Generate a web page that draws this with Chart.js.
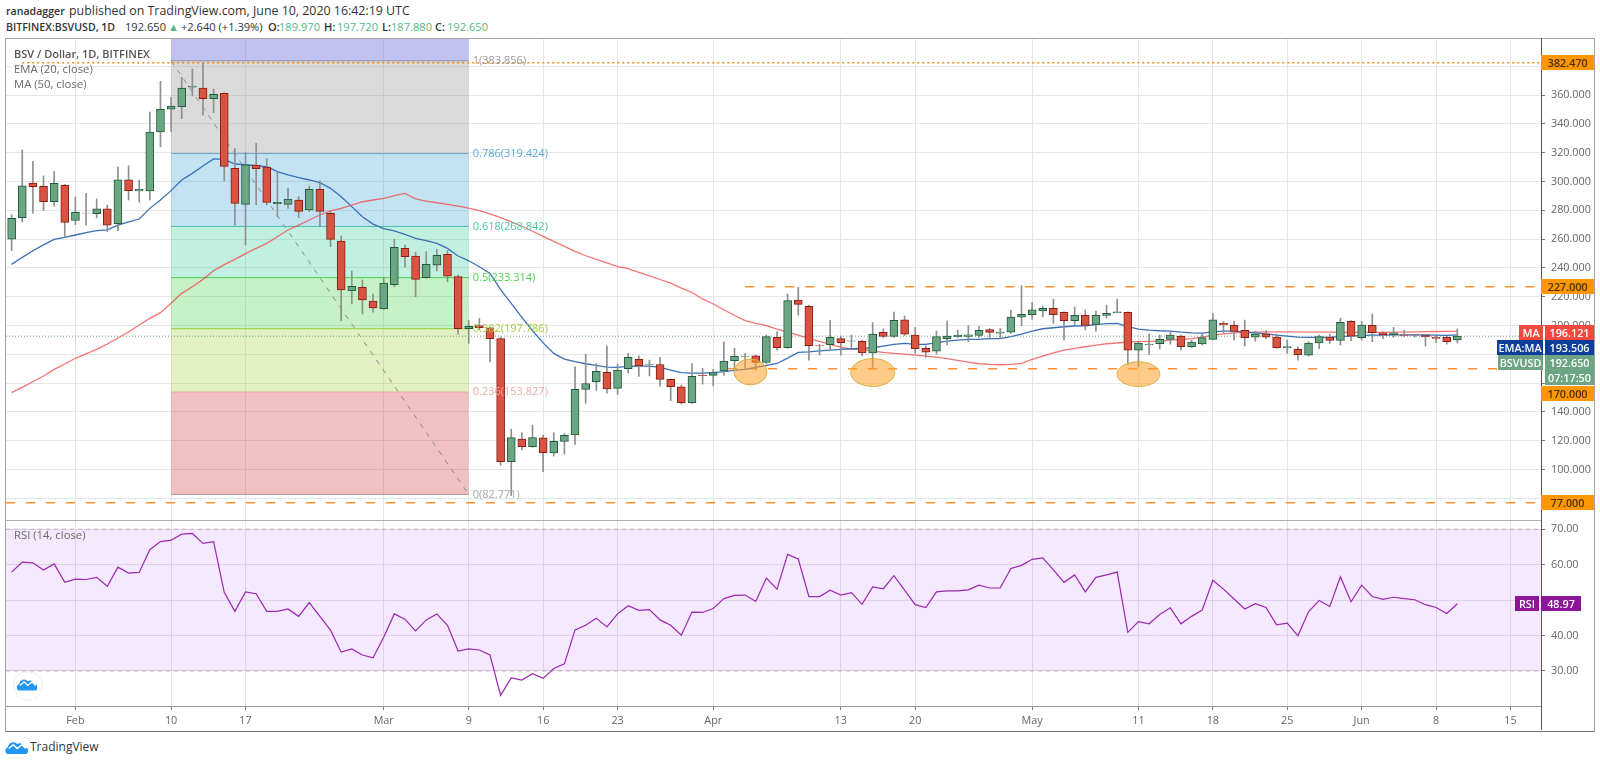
<!DOCTYPE html>
<html lang="en">

<head>
  <meta charset="UTF-8" />
  <title>BSVUSD</title>
  <script src="https://cdn.jsdelivr.net/npm/chart.js"></script>
  <style>
    html, body { margin: 0; padding: 0; background: #fff; }
    body { width: 1600px; height: 763px; position: relative; overflow: hidden; font-family: "Open Sans", sans-serif; }
    canvas { position: absolute; left: 0; }
    #frame { position: absolute; left: 5px; top: 38px; width: 1588px; height: 692px; border: 1px solid #a3a3a3; border-bottom-color: #777; pointer-events: none; }
    #sep { position: absolute; left: 6px; top: 520px; width: 1535px; height: 1px; background: #b0b0b0; }
    #axisLine { position: absolute; left: 1541px; top: 38px; width: 1px; height: 692px; background: #555; }
    .txt { position: absolute; white-space: nowrap; line-height: 14px; }
    .head { font-size: 12.4px; color: #333; top: 4px; }
    .sub { font-size: 11.1px; color: #333; top: 20px; }
    .sub.b, .head.b { font-weight: 600; }
    .up { color: #53b987; }
    .leg { font-size: 11.3px; color: #6a6a6a; left: 14px; }
    .tag { position: absolute; font-size: 10.8px; font-weight: 600; color: #fff; height: 15px; line-height: 15px; text-align: center; }
    .orange { background: #ff9800; color: #4a3000; left: 1541px; width: 53px; }
  </style>
</head>

<body>
  <div class="txt head b" style="left:6px;font-size:10.6px">ranadagger</div>
  <div class="txt head" style="left:69px">published on TradingView.com, June 10, 2020 16:42:19 UTC</div>
  <div class="txt sub b" style="left:6px;font-size:10.6px">BITFINEX:BSVUSD, 1D</div>
  <div class="txt sub" style="left:125px">192.650</div>
  <div class="txt sub up" style="left:168px">▲</div>
  <div class="txt sub" style="left:181px">+2.640 (+1.39%)</div>
  <div class="txt sub b" style="left:268px">O:</div>
  <div class="txt sub up" style="left:279px">189.970</div>
  <div class="txt sub b" style="left:324px">H:</div>
  <div class="txt sub up" style="left:337px">197.720</div>
  <div class="txt sub b" style="left:382px">L:</div>
  <div class="txt sub up" style="left:391px">187.880</div>
  <div class="txt sub b" style="left:435px">C:</div>
  <div class="txt sub up" style="left:447px">192.650</div>

  <canvas id="priceChart" width="1600" height="482" style="top:38px"></canvas>
  <canvas id="rsiChart" width="1600" height="210" style="top:520px"></canvas>

  <div id="frame"></div>
  <div id="sep"></div>
  <div id="axisLine"></div>

  <div class="txt leg" style="top:47px;color:#555;font-weight:600;font-size:11px">BSV / Dollar, 1D, BITFINEX</div>
  <div class="txt leg" style="top:62px">EMA (20, close)</div>
  <div class="txt leg" style="top:77px">MA (50, close)</div>
  <div class="txt leg" style="top:528px">RSI (14, close)</div>

  <!-- price axis tags -->
  <div class="tag orange" style="top:55px">382.470</div>
  <div class="tag orange" style="top:279px">227.000</div>
  <div class="tag orange" style="top:386px">170.000</div>
  <div class="tag orange" style="top:495px">77.000</div>
  <div class="tag" style="top:325px;left:1519px;width:24px;background:#f5483e">MA</div>
  <div class="tag" style="top:325px;left:1545px;width:49px;background:#f5483e">196.121</div>
  <div class="tag" style="top:340px;left:1497px;width:46px;background:#0d3f9a">EMA:MA</div>
  <div class="tag" style="top:340px;left:1545px;width:49px;background:#0d3f9a">193.506</div>
  <div class="tag" style="top:355px;left:1498px;width:45px;background:#6ba583">BSVUSD</div>
  <div class="tag" style="top:355px;left:1545px;width:49px;background:#6ba583">192.650</div>
  <div class="tag" style="top:370px;left:1545px;width:49px;background:#6ba583">07:17:50</div>
  <div class="tag" style="top:596px;left:1515px;width:24px;background:#8e1599">RSI</div>
  <div class="tag" style="top:596px;left:1541px;width:40px;background:#8e1599">48.97</div>

  <!-- logos -->
  <div style="position:absolute;left:13px;top:671px;width:28px;height:28px;border-radius:50%;background:#fff;border:1px solid #ececec"></div>
  <svg style="position:absolute;left:17px;top:677px" width="20" height="14" viewBox="0 0 28 18">
    <path d="M2 18a5 5 0 0 1 1-9 7 7 0 0 1 12-4 6 6 0 0 1 9 5 4 4 0 0 1 2 8z" fill="#2196f3" />
    <path d="M4 11l6-5 5 5 6-5 5 5" fill="none" stroke="#fff" stroke-width="1.8" />
  </svg>
  <svg style="position:absolute;left:5px;top:740px" width="23" height="14" viewBox="0 0 28 18">
    <path d="M2 18a5 5 0 0 1 1-9 7 7 0 0 1 12-4 6 6 0 0 1 9 5 4 4 0 0 1 2 8z" fill="#2196f3" />
    <path d="M4 11l6-5 5 5 6-5 5 5" fill="none" stroke="#fff" stroke-width="1.8" />
  </svg>
  <div class="txt" style="left:30px;top:740px;font-size:12px;color:#333">TradingView</div>

  <script>
    // day 0 = Feb 1 2020, first candle is Jan 26
    const firstDay = -6;
    const openP = [
      260, 275, 299, 296.7, 286, 297.4, 273, 278, 277.7, 281,
      270.8, 301.3, 293.5, 293.5, 334.4, 350.2, 352, 365.5, 365, 357.6,
      361.3, 309.2, 284.2, 311.5, 310.1, 284.6, 284.2, 287.2, 280.3, 294.6,
      277.9, 258.7, 224, 226.6, 217.1, 211.5, 228.4, 253.6, 248.3, 233.3,
      241.9, 249.5, 234, 197.9, 200, 198.5, 191, 105.5, 121.2, 115.9,
      122, 111.5, 119.6, 124, 155.7, 161, 167.5, 156.4, 170, 176.5,
      173, 173, 162.6, 157.5, 146.4, 165.5, 165.4, 168.6, 175.6, 178.6,
      179, 174.4, 191.8, 184.6, 217.7, 213.3, 186.3, 186.7, 191, 189.2,
      189, 181.1, 195.3, 192.5, 204, 193.4, 184.2, 182.3, 190.9, 192.3,
      192.5, 193.2, 197.3, 194.8, 195.5, 205.9, 207.5, 210.1, 211.9, 209.2,
      203.4, 207.1, 200.8, 207.1, 209, 209.2, 183, 186.7, 187.4, 190.4,
      192.7, 185.3, 187.2, 190.4, 201.7, 200.1, 196.7, 192, 194.3, 192,
      184.6, 183.5, 179.5, 187.9, 192, 189.7, 202.9, 191.6, 200.1, 195,
      193.6, 193.6, 193.6, 193.2, 191.8, 191.8, 189.97
    ];
    const highP = [
      277, 322, 314, 304, 307, 298, 289.3, 291.8, 287.9, 283.7,
      310.3, 311, 301, 348.3, 369.6, 358.5, 372.4, 378.2, 382.1, 364.1,
      361.7, 323.1, 320.3, 326.6, 315.9, 306.9, 295.3, 289.5, 296.9, 300.6,
      279.1, 262.2, 237.9, 231.7, 221.9, 233.5, 260, 256, 251, 251.3,
      253, 252, 235, 203.7, 205, 199, 192, 128, 125.6, 131,
      124, 125.6, 125, 171.4, 180.2, 173.7, 185.8, 173, 180.7, 179,
      176, 178, 163, 158.7, 173.7, 170.3, 169.6, 188.8, 184.2, 180.7,
      179.5, 193.4, 195.7, 221.9, 226.5, 214, 187, 203.6, 192.7, 193.4,
      190, 202, 197.6, 209.4, 206.6, 198.7, 186, 196.2, 203.1, 196.9,
      199.9, 199.7, 198, 198, 210.8, 227.7, 216.1, 213.5, 218.4, 209.5,
      212.9, 210.8, 210.1, 214.2, 218.4, 209.6, 188.8, 194.1, 193.4, 195.7,
      193.4, 189.9, 194, 208.5, 202.7, 202.9, 203.8, 196.2, 196.6, 194.1,
      190, 185.3, 188.8, 193.4, 194, 205, 203.4, 202.9, 208, 195.7,
      198.7, 196.9, 194, 193.6, 192.7, 192.7, 197.72
    ];
    const lowP = [
      252, 272, 278, 280, 283, 261.3, 270.1, 269.8, 274.7, 265.2,
      265.9, 287.2, 285.6, 287.2, 324.2, 334.9, 343.7, 359.4, 346.2, 347.9,
      300.4, 269.8, 255.9, 284, 283.7, 275.6, 281.4, 274.9, 279.1, 269.1,
      254.8, 203.4, 215, 208, 209.4, 211, 227, 240.5, 220, 232.8,
      238, 230.5, 194, 187.6, 197, 174.9, 103, 82, 113.6, 115.4,
      98.5, 109.4, 110.8, 117.5, 146, 155, 153, 152.2, 167, 164.7,
      165, 158, 147.8, 145.5, 146, 159.4, 158, 165.6, 169, 170,
      169.6, 173.7, 183, 184.2, 207.3, 176, 179.5, 182.5, 179.5, 184.8,
      179, 171, 191.8, 191.8, 193.2, 180.7, 177.9, 180.2, 186.5, 191.8,
      188.8, 191.8, 190.4, 190.9, 194.6, 199.9, 204.5, 206.1, 201.5, 189.9,
      200.4, 196.9, 196.2, 205.2, 209, 173, 171.4, 180, 183.7, 187.2,
      183, 184.8, 186.5, 190, 195, 189.9, 185.8, 189.2, 190.9, 184.2,
      180.7, 176, 178.8, 183.9, 187.6, 186.5, 189.5, 190, 188.8, 191,
      191.8, 192.2, 192, 185.8, 188.1, 187.2, 187.88
    ];
    const closeP = [
      274.5, 297, 296.5, 286, 298.8, 271.7, 278.6, 278.2, 281, 269.8,
      301.3, 293.7, 294.6, 334.4, 350.2, 352.5, 365, 366.4, 357.6, 360.6,
      310.6, 284.9, 311.7, 309, 285.6, 285.6, 287.9, 279.3, 294.6, 279.3,
      259.9, 224.7, 227.3, 217.8, 212.2, 229.6, 254.3, 247.9, 232.1, 242.5,
      248.8, 234.4, 197.9, 199.5, 198.5, 190.9, 105.5, 122.2, 115.9, 122.2,
      111.7, 119.6, 123.8, 155.7, 159.8, 168.2, 156, 169.1, 178, 172,
      173.3, 162.6, 157.5, 146.4, 164.7, 165.2, 167.3, 175.4, 178.6, 178.9,
      174.4, 192.3, 184.6, 217.3, 214.7, 186, 186.2, 191.8, 188.1, 189.5,
      181.1, 194.1, 192.5, 203.6, 194.1, 183.9, 181.6, 192.3, 192.7, 193.2,
      193.6, 196.7, 195.3, 195.5, 205.9, 207.8, 211, 211.9, 207.5, 203.4,
      207.1, 200.1, 207.1, 208.5, 209.6, 183, 187.9, 187.2, 190.4, 193.4,
      185.3, 188.5, 191.6, 204, 200.4, 196, 191.6, 194.3, 192, 184.6,
      185.5, 179.8, 187.9, 192.3, 189.7, 202.2, 192.7, 200.4, 195, 193.6,
      195, 193.2, 193.4, 192.3, 191.1, 188.8, 192.65
    ];
    const ema20 = [
      242.5, 247.4, 252, 256, 259.9, 261.3, 262.9, 264.5, 265.9, 266.4,
      269.8, 272.1, 274, 281.4, 287.2, 293.7, 301.1, 305.7, 310.8, 315.7,
      315.4, 312.2, 311.7, 311, 310.3, 306.9, 304.6, 302.7, 301.1, 299.2,
      295.3, 289.5, 282.6, 275.6, 270.5, 267.3, 265.7, 263.3, 260.6, 259,
      257.1, 253.6, 248.3, 245, 240.9, 236.2, 225, 215.4, 205.7, 196.4,
      188, 180.7, 176.7, 174.9, 173.5, 172.3, 171.2, 171, 171.7, 171.9,
      171.9, 171, 169.1, 167.3, 167, 167, 167.3, 168, 168.9, 169.6,
      171, 172.3, 173.7, 177.4, 181.4, 181.8, 182.5, 183, 183.5, 183.9,
      184.2, 184.6, 185.8, 186.9, 187.6, 186.9, 186.9, 188.1, 189.2, 189.9,
      190.4, 190.4, 190.9, 190.9, 192.3, 194.1, 196.2, 197.8, 198.5, 199.2,
      199.7, 199.9, 200.6, 201.3, 201.5, 199.2, 197.6, 196.9, 196.4, 196.2,
      195.5, 195, 194.8, 195.7, 196.2, 196.2, 195.5, 195, 194.3, 193.4,
      192.7, 192, 191.8, 191.8, 191.8, 192.5, 192.7, 193.2, 193.4, 193.4,
      193.6, 193.6, 193.6, 193.6, 193.4, 193.2, 193.506
    ];
    const ma50 = [
      153.4, 157.1, 161, 165, 169.6, 173.3, 177.3, 180.3, 183.5, 187.2,
      191.4, 195.5, 200.4, 205, 209, 215.5, 222.4, 227, 232.1, 238.1,
      242.3, 246, 250, 253.6, 257.1, 261.7, 266.4, 269.8, 273.3, 276.8,
      279.6, 281.4, 283.7, 286, 287.2, 288.4, 290.2, 291.8, 287.9, 286.5,
      285.3, 284.2, 283, 281.6, 279.8, 277.5, 275, 272, 269, 265.5,
      262, 258.5, 255, 251.5, 248.5, 246, 243.5, 241, 239.5, 237,
      234.5, 232, 229.5, 226, 223, 218.5, 215, 211, 207, 203.5,
      201.5, 199.9, 197.5, 195.5, 193.4, 191, 189, 187, 185, 183.7,
      183.3, 182.3, 181.4, 180.7, 180.2, 179.5, 178.8, 178.1, 177, 175.8,
      174.7, 173.5, 173, 172.8, 173, 173.7, 176.5, 178.8, 181.1, 183,
      184.2, 185.3, 186.5, 187.4, 187.9, 188.6, 188.8, 189, 189.2, 189.9,
      190.4, 190.9, 192, 193.4, 194.3, 195, 195.3, 195.5, 195.7, 195.7,
      195.7, 195.7, 195.5, 195.5, 195.5, 195.3, 195.3, 195.3, 195.3, 195.3,
      195.4, 195.5, 195.6, 195.8, 195.9, 196, 196.121
    ];
    const rsi14 = [
      57.9, 60.7, 60.5, 58.5, 60.2, 55, 55.9, 55.8, 56.4, 53.9,
      59.3, 57.6, 57.8, 64.2, 66.5, 66.9, 68.6, 68.8, 66, 66.5,
      52.2, 46.8, 52.3, 51.8, 46.8, 46.8, 47.5, 45.4, 49.3, 45.4,
      41.5, 35.3, 36.2, 34.5, 33.7, 39.5, 46.1, 44.6, 41.3, 44.4,
      46.1, 42.9, 35.6, 36.2, 35.9, 34.5, 23.1, 28, 27.4, 29.2,
      27.9, 30.7, 32, 41.6, 42.9, 44.9, 42.4, 46.1, 48.4, 47.1,
      47.3, 44.4, 42.9, 40.1, 46.6, 46.5, 47.6, 50.4, 51.3, 51.4,
      49.6, 56.2, 53.1, 62.9, 61.6, 51, 51, 52.8, 51.4, 52.1,
      48.8, 53.7, 53.2, 56.9, 52.8, 48.7, 47.9, 52.3, 52.6, 52.6,
      52.9, 54.2, 53.4, 53.4, 58.9, 59.8, 61.5, 61.9, 58.5, 55,
      57.1, 52.3, 56.4, 57.1, 57.9, 40.9, 43.9, 43.3, 45.9, 47.8,
      43.3, 45.4, 47.2, 55.6, 53.1, 50.3, 47.5, 49, 47.9, 43,
      43.5, 39.9, 46.7, 49.9, 48.2, 56.6, 49.5, 54.2, 51, 50.2,
      50.8, 50.4, 50.1, 48.7, 47.9, 46.2, 48.97
    ];

    const tickDays = [0, 9, 16, 29, 37, 44, 51, 60, 72, 79, 90, 100, 107, 114, 121, 128, 135];
    const tickLabels = ['Feb', '10', '17', 'Mar', '9', '16', '23', 'Apr', '13', '20', 'May', '11', '18', '25', 'Jun', '8', '15'];

    // fib retracement, drawn between day 9 and day 37
    const fibStart = 9;
    const fibEnd = 37;
    const fibRatios = ['1', '0.786', '0.618', '0.5', '0.382', '0.236', '0'];
    const fibValues = [383.856, 319.424, 268.842, 233.314, 197.786, 153.827, 82.771];
    const fibLines = ['#9a9a9a', '#5aa9dc', '#4cc8a2', '#4fd04f', '#a4cf3e', '#f0a8a8', '#a8a8a8'];
    const fibFills = ['rgba(150,150,150,.35)', 'rgba(33,150,210,.27)', 'rgba(30,200,140,.27)', 'rgba(50,205,50,.28)', 'rgba(150,200,30,.27)', 'rgba(210,50,50,.3)'];

    // horizontal levels: value, first day
    const dashedValues = [227, 170, 77];
    const dashedFrom = [63, 61.4, -6.53];

    // orange circles: day, price, radius in days, radius in dollars
    const ellipseDays = [63.5, 75, 100];
    const ellipsePrices = [167.8, 167.4, 166.3];
    const ellipseRx = [1.55, 2.07, 2.02];
    const ellipseRy = [9, 9.7, 8.6];

    // axis labels that sit under a price tag in the original
    const hiddenTicks = [80, 160, 180, 50];

    const xMin = -6.53;
    const xMax = 137.87;
    const priceMin = 65;
    const priceMax = 399.7;
    const gridColor = '#e6e6e6';
    const font = '"Open Sans", sans-serif';

    const dayOf = i => i + firstDay;
    const series = arr => arr.map((v, i) => ({ x: dayOf(i), y: v }));
    const hline = (y, from, to) => [{ x: from, y }, { x: to, y }];
    const noPadding = s => { s.paddingLeft = s.paddingRight = s.paddingTop = s.paddingBottom = 0; };

    const xGridScale = {
      type: 'linear',
      offset: false,
      min: xMin,
      max: xMax,
      afterBuildTicks: s => { s.ticks = tickDays.map(v => ({ value: v })); },
      afterFit: noPadding,
      grid: { color: gridColor, drawTicks: false, offset: false },
      border: { display: false },
      ticks: { display: false }
    };

    // fib labels and the circles go on top of the candles
    const overlayPlugin = {
      id: 'overlay',
      afterDatasetsDraw(chart) {
        const { ctx, scales: { x, y } } = chart;
        ctx.save();
        ctx.font = '11px ' + font;
        ctx.textBaseline = 'middle';
        fibValues.forEach((v, i) => {
          ctx.fillStyle = fibLines[i];
          ctx.fillText(fibRatios[i] + '(' + v.toFixed(3).replace(/0$/, '') + ')', x.getPixelForValue(fibEnd) + 4, y.getPixelForValue(v));
        });
        ellipseDays.forEach((d, i) => {
          const cx = x.getPixelForValue(d);
          const cy = y.getPixelForValue(ellipsePrices[i]);
          const rx = x.getPixelForValue(d + ellipseRx[i]) - cx;
          const ry = cy - y.getPixelForValue(ellipsePrices[i] + ellipseRy[i]);
          ctx.beginPath();
          ctx.ellipse(cx, cy, rx, ry, 0, 0, Math.PI * 2);
          ctx.fillStyle = 'rgba(255,160,40,.55)';
          ctx.fill();
          ctx.strokeStyle = '#d8b040';
          ctx.lineWidth = 1;
          ctx.stroke();
        });
        ctx.restore();
      }
    };

    // bands, one line per level, each filled down to the next one
    const bandLevels = [priceMax].concat(fibValues);
    const bandDatasets = bandLevels.map((v, i) => ({
      type: 'line',
      data: hline(v, fibStart, fibEnd),
      borderColor: i === 0 ? 'rgba(0,0,0,0)' : fibLines[i - 1],
      borderWidth: 1,
      pointRadius: 0,
      fill: i < bandLevels.length - 1 ? '+1' : false,
      backgroundColor: i === 0 ? 'rgba(90,90,220,.37)' : fibFills[i - 1],
      order: 20
    }));

    const lineDs = (data, color, extra) => Object.assign({
      type: 'line', data, borderColor: color, borderWidth: 1, pointRadius: 0, tension: 0, fill: false, order: 5
    }, extra);

    new Chart(document.getElementById('priceChart'), {
      type: 'bar',
      data: {
        datasets: bandDatasets.concat([
          lineDs(hline(382.47, -5, xMax), '#f58a10', { borderWidth: 1.5, borderDash: [2, 3], order: 6 }),
          lineDs(hline(192.65, xMin, xMax), '#5f9f80', { borderDash: [1, 2], order: 6 }),
          lineDs([{ x: fibStart, y: fibValues[0] }, { x: fibEnd, y: fibValues[6] }], '#8a8a8a', { borderDash: [5, 6], order: 6 })
        ]).concat(dashedValues.map((v, i) =>
          lineDs(hline(v, dashedFrom[i], xMax), '#ff9030', { borderWidth: 1.5, borderDash: [9, 11], order: 6 })
        )).concat([
          lineDs(series(ma50), 'rgba(240,70,70,.75)', { borderWidth: 1.3, order: 4 }),
          lineDs(series(ema20), '#3a70b8', { borderWidth: 1.3, order: 3 }),
          {
            // wicks
            data: lowP.map((v, i) => ({ x: dayOf(i), y: [v, highP[i]] })),
            barThickness: 1,
            backgroundColor: '#8f8f8f',
            grouped: false,
            order: 2
          },
          {
            // bodies
            data: openP.map((v, i) => ({ x: dayOf(i), y: [v, closeP[i]] })),
            barThickness: 8,
            backgroundColor: openP.map((v, i) => closeP[i] >= v ? '#6ba583' : '#d75442'),
            borderColor: openP.map((v, i) => closeP[i] >= v ? '#1f5c3a' : '#8a1c10'),
            borderWidth: 1,
            borderSkipped: false,
            grouped: false,
            order: 1
          }
        ])
      },
      options: {
        responsive: false,
        animation: false,
        layout: { padding: { left: 6, right: 0, top: 0, bottom: 0 } },
        plugins: { legend: { display: false }, tooltip: { enabled: false } },
        scales: {
          x: xGridScale,
          y: {
            position: 'right',
            min: priceMin,
            max: priceMax,
            afterFit: s => { s.width = 59; noPadding(s); },
            grid: { color: gridColor, tickLength: 4, tickColor: '#777' },
            border: { display: false },
            ticks: {
              stepSize: 20,
              includeBounds: false,
              color: '#666',
              padding: 6,
              font: { family: font, size: 10.8 },
              callback: v => hiddenTicks.includes(v) ? '' : v.toFixed(3)
            }
          }
        }
      },
      plugins: [overlayPlugin]
    });

    new Chart(document.getElementById('rsiChart'), {
      type: 'line',
      data: {
        datasets: [
          lineDs(series(rsi14), '#9c27b0', { borderWidth: 1.2, order: 1 }),
          lineDs(hline(70, xMin, xMax), '#bcaebf', { borderDash: [4, 4], fill: '+1', backgroundColor: 'rgba(153,51,255,.11)', order: 8 }),
          lineDs(hline(30, xMin, xMax), '#bcaebf', { borderDash: [4, 4], order: 8 })
        ]
      },
      options: {
        responsive: false,
        animation: false,
        layout: { padding: { left: 6, right: 0, top: 0, bottom: 0 } },
        plugins: { legend: { display: false }, tooltip: { enabled: false } },
        scales: {
          x: {
            type: 'linear',
            min: xMin,
            max: xMax,
            afterBuildTicks: s => { s.ticks = tickDays.map(v => ({ value: v })); },
            afterFit: s => { s.height = 24; noPadding(s); },
            grid: { color: gridColor, tickLength: 4, tickColor: '#777' },
            border: { color: '#999' },
            ticks: {
              autoSkip: false,
              maxRotation: 0,
              color: '#666',
              padding: 4,
              font: { family: font, size: 10.8 },
              callback: (v, i) => tickLabels[i]
            }
          },
          y: {
            position: 'right',
            min: 20.1,
            max: 72.6,
            afterFit: s => { s.width = 59; noPadding(s); },
            grid: { color: gridColor, tickLength: 4, tickColor: '#777' },
            border: { display: false },
            ticks: {
              stepSize: 10,
              includeBounds: false,
              color: '#666',
              padding: 6,
              font: { family: font, size: 10.8 },
              callback: v => hiddenTicks.includes(v) ? '' : v.toFixed(2)
            }
          }
        }
      }
    });
  </script>
</body>

</html>
